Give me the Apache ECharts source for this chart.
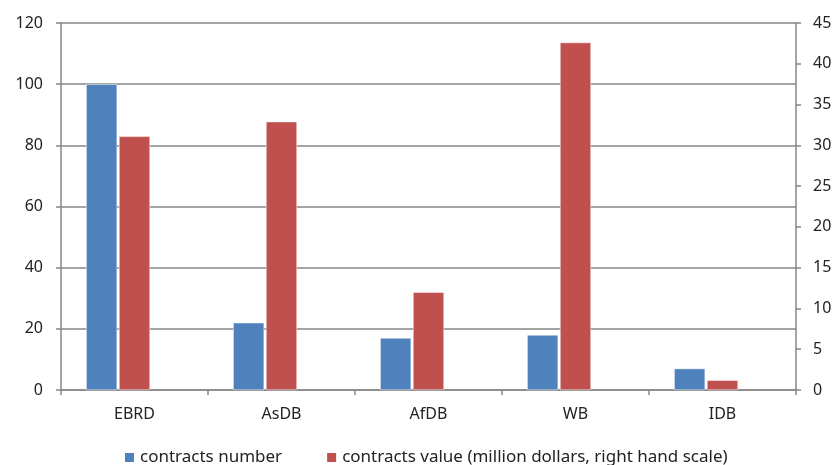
<!DOCTYPE html>
<html>
<head>
<meta charset="utf-8">
<script src="https://cdn.jsdelivr.net/npm/echarts@6/dist/echarts.min.js"></script>
<style>html,body{margin:0;padding:0;background:#fff}#c{width:839px;height:465px}</style>
</head>
<body>
<div id="c"></div>
<script>
const categories = ['EBRD', 'AsDB', 'AfDB', 'WB', 'IDB'];
const contractsNumber = [100, 22, 17, 18, 7];
const contractsValue = [31.1, 32.9, 12.0, 42.6, 1.2];
const spacer = [null, null, null, null, null];
const seriesNames = ['contracts number', 'contracts value (million dollars, right hand scale)'];

const FONT = 'Noto Sans';
const txt = '#222';
const axisCol = '#868686';

const chart = echarts.init(document.getElementById('c'), null, {renderer: 'canvas'});
chart.setOption({
  animation: false,
  grid: {left: 61, right: 43, top: 23, bottom: 75, containLabel: false},
  legend: {
    data: seriesNames,
    left: 123, top: 449, padding: 0,
    itemWidth: 11, itemHeight: 11, itemGap: 43,
    icon: 'rect',
    textStyle: {fontFamily: FONT, fontSize: 17, color: txt, padding: [0, 0, 0, 0]}
  },
  xAxis: {
    type: 'category',
    data: categories,
    axisLine: {lineStyle: {color: axisCol, width: 1.5}},
    axisTick: {show: true, length: 5, alignWithLabel: false, lineStyle: {color: axisCol, width: 1.5}},
    axisLabel: {fontFamily: FONT, fontSize: 16, color: txt, margin: 16}
  },
  yAxis: [
    {
      type: 'value', min: 0, max: 120, interval: 20,
      axisLine: {show: true, lineStyle: {color: axisCol, width: 1.5}},
      axisTick: {show: true, length: 5, lineStyle: {color: axisCol, width: 1.5}},
      axisLabel: {fontFamily: FONT, fontSize: 16, color: txt, margin: 18},
      splitLine: {show: true, lineStyle: {color: axisCol, width: 1.5}}
    },
    {
      type: 'value', min: 0, max: 45, interval: 5, position: 'right',
      axisLine: {show: true, lineStyle: {color: axisCol, width: 1.5}},
      axisTick: {show: true, length: 5, lineStyle: {color: axisCol, width: 1.5}},
      axisLabel: {fontFamily: FONT, fontSize: 16, color: txt, margin: 17},
      splitLine: {show: false}
    }
  ],
  series: [
    {
      name: seriesNames[0], type: 'bar', yAxisIndex: 0, data: contractsNumber,
      barWidth: 31, barGap: '6%',
      itemStyle: {color: '#4F81BD', borderColor: '#ffffff', borderWidth: 0.5}
    },
    {
      name: seriesNames[1], type: 'bar', yAxisIndex: 1, data: contractsValue,
      barWidth: 31, barGap: '6%',
      itemStyle: {color: '#C0504D', borderColor: '#ffffff', borderWidth: 0.5}
    },
    {
      name: 'spacer', type: 'bar', yAxisIndex: 0, data: spacer,
      barWidth: 31, barGap: '6%', silent: true
    }
  ]
});
</script>
</body>
</html>
